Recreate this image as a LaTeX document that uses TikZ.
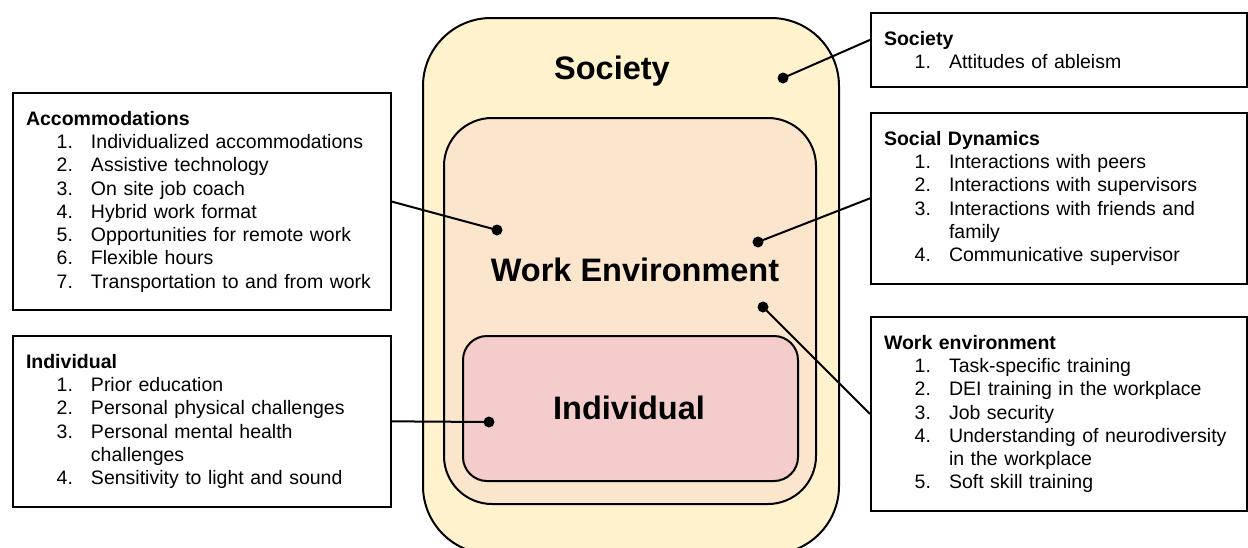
\documentclass[tikz,border=0pt]{standalone}
\usepackage{fontspec}
\setmainfont{Liberation Sans}
\definecolor{societyfill}{HTML}{FFF2CC}
\definecolor{workfill}{HTML}{FBE5CD}
\definecolor{indivfill}{HTML}{F4CCCC}
\newcommand{\li}[2]{\makebox[47pt][r]{#1.}\hspace{18pt}#2}
\newcommand{\cont}[1]{\hspace*{65pt}#1}

\begin{document}
\begin{tikzpicture}
  [x=1pt,y=-1pt,line width=2pt,
   layer/.style={draw, rounded corners=#1, anchor=north west, inner sep=0pt},
   biglabel/.style={font=\fontsize{32.5pt}{36pt}\selectfont\bfseries, anchor=base, inner sep=0pt},
   factorbox/.style={draw, anchor=north west, text width=#1, align=left, inner xsep=13pt, inner ysep=18pt, font=\fontsize{19.5pt}{23.3pt}\selectfont},
   dot/.style={circle, fill, inner sep=0pt, minimum size=11pt}]
  \useasboundingbox (0,0) rectangle (1248,547);
  \clip (0,0) rectangle (1248,547);

  % nested layers
  \node[layer=68pt, fill=societyfill, minimum width=416pt, minimum height=536pt] (society) at (422,17) {};
  \node[layer=48pt, fill=workfill, minimum width=372pt, minimum height=386pt] (work) at (443,117) {};
  \node[layer=24pt, fill=indivfill, minimum width=335pt, minimum height=145pt] (indiv) at (462,335) {};

  \node[biglabel] (societylbl) at (612,79.5) {Society};
  \node[biglabel] (worklbl) at (635,281) {Work Environment};
  \node[biglabel] (indivlbl) at (629,419) {Individual};

  % factor lists
  \node[factorbox=352pt] (acclist) at (12,92) {\textbf{Accommodations}\\
    \li{1}{Individualized accommodations}\\
    \li{2}{Assistive technology}\\
    \li{3}{On site job coach}\\
    \li{4}{Hybrid work format}\\
    \li{5}{Opportunities for remote work}\\
    \li{6}{Flexible hours}\\
    \li{7}{Transportation to and from work}};
  \node[factorbox=352pt] (indlist) at (12,335) {\textbf{Individual}\\
    \li{1}{Prior education}\\
    \li{2}{Personal physical challenges}\\
    \li{3}{Personal mental health}\\
    \cont{challenges}\\
    \li{4}{Sensitivity to light and sound}};
  \node[factorbox=350pt] (soclist) at (870,12) {\textbf{Society}\\
    \li{1}{Attitudes of ableism}};
  \node[factorbox=350pt] (dynlist) at (870,112) {\textbf{Social Dynamics}\\
    \li{1}{Interactions with peers}\\
    \li{2}{Interactions with supervisors}\\
    \li{3}{Interactions with friends and}\\
    \cont{family}\\
    \li{4}{Communicative supervisor}};
  \node[factorbox=350pt] (wenvlist) at (870,316) {\textbf{Work environment}\\
    \li{1}{Task-specific training}\\
    \li{2}{DEI training in the workplace}\\
    \li{3}{Job security}\\
    \li{4}{Understanding of neurodiversity}\\
    \cont{in the workplace}\\
    \li{5}{Soft skill training}};

  % pointers into the layers
  \node[dot] (socdot) at (783,78) {};
  \node[dot] (accdot) at (497,230) {};
  \node[dot] (dyndot) at (758,242) {};
  \node[dot] (wenvdot) at (763,307) {};
  \node[dot] (inddot) at (489,422) {};

  \foreach \from/\to in {soclist.177/socdot, acclist.east/accdot, dynlist.west/dyndot,
    wenvlist.west/wenvdot, indlist.east/inddot}
    \draw (\from) -- (\to.center);
\end{tikzpicture}
\end{document}
